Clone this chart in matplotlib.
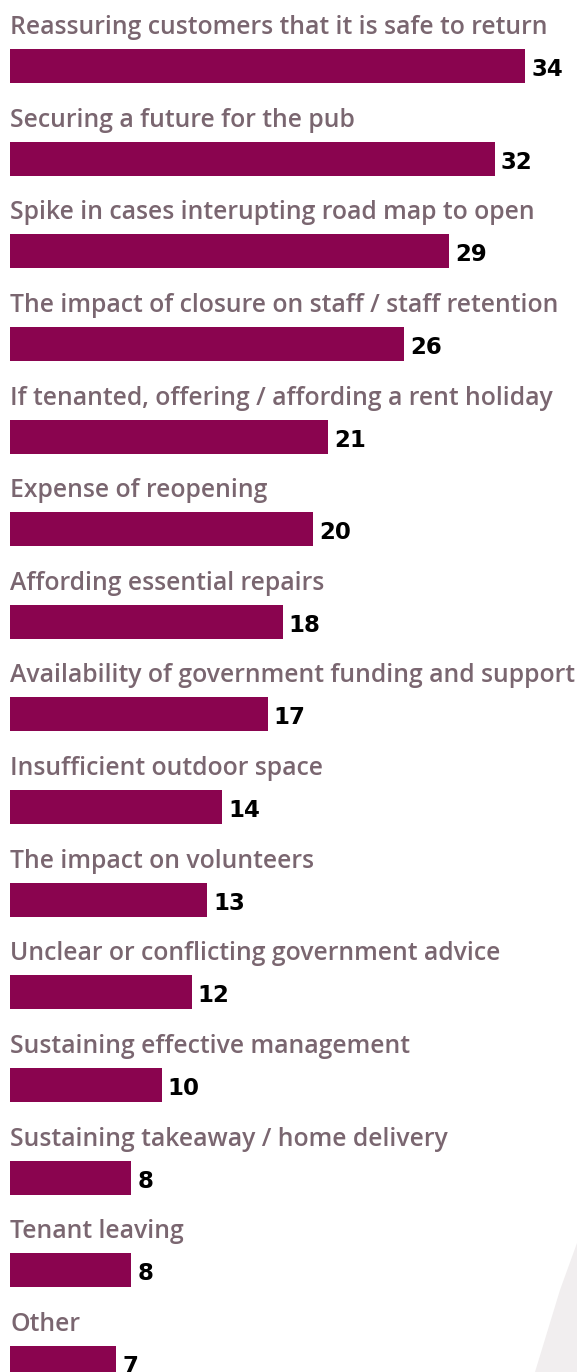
import matplotlib.pyplot as plt
from matplotlib.patches import Polygon

labels = [
    "Reassuring customers that it is safe to return",
    "Securing a future for the pub",
    "Spike in cases interupting road map to open",
    "The impact of closure on staff / staff retention",
    "If tenanted, offering / affording a rent holiday",
    "Expense of reopening",
    "Affording essential repairs",
    "Availability of government funding and support",
    "Insufficient outdoor space",
    "The impact on volunteers",
    "Unclear or conflicting government advice",
    "Sustaining effective management",
    "Sustaining takeaway / home delivery",
    "Tenant leaving",
    "Other",
]
values = [34, 32, 29, 26, 21, 20, 18, 17, 14, 13, 12, 10, 8, 8, 7]

bar_color = "#8A044F"
text_color = "#7A6670"

W, H = 577, 1372
fig = plt.figure(figsize=(W / 100, H / 100), dpi=100)

# faint background wedge in the lower right corner
bg = fig.add_axes([0, 0, 1, 1])
bg.set_xlim(0, W)
bg.set_ylim(H, 0)
bg.axis("off")
bg.add_patch(Polygon([(577, 1243), (577, 1372), (535, 1372), (560, 1290)],
                     closed=True, color="#F1EEEF", lw=0))

ax = fig.add_axes([10 / W, 0, 1 - 10 / W, 1])
ax.patch.set_alpha(0)
px_per_unit = 15.15
pitch = 92.64
ax.set_xlim(0, (W - 10) / px_per_unit)
ax.set_ylim((H - 66) / pitch, -66 / pitch)
ax.axis("off")

ys = list(range(len(values)))
ax.barh(ys, values, height=34 / pitch, color=bar_color)

for y, lab, v in zip(ys, labels, values):
    ax.text(0, y - 32 / pitch, lab, fontsize=17.8, color=text_color,
            family="Open Sans", fontweight="semibold",
            va="baseline", ha="left")
    ax.text(v + 6 / px_per_unit, y + 10 / pitch, str(v), fontsize=16.5,
            fontweight="heavy", family="DejaVu Sans", color="black",
            va="baseline", ha="left")

fig.savefig("out.png", dpi=100)
